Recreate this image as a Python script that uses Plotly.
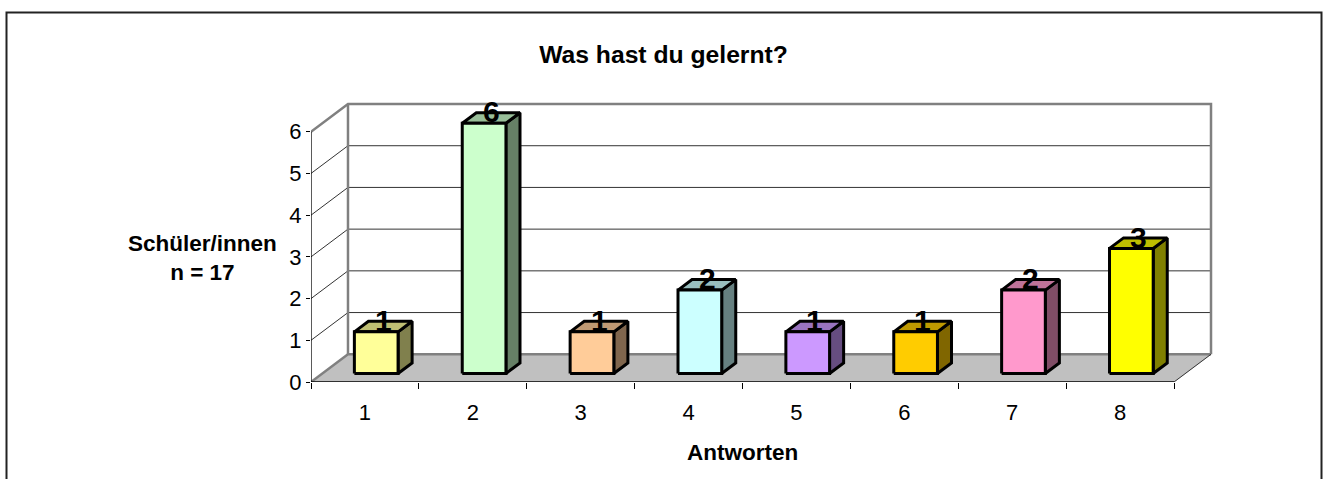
import plotly.graph_objects as go

categories = [1, 2, 3, 4, 5, 6, 7, 8]
values = [1, 6, 1, 2, 1, 1, 2, 3]
front_colors = ["#FFFF99", "#CCFFCC", "#FFCC99", "#CCFFFF", "#CC99FF", "#FFCC00", "#FF99CC", "#FFFF00"]
top_colors = ["#BFBF73", "#99BF99", "#BF9973", "#99BFBF", "#9973BF", "#BF9900", "#BF7399", "#BFBF00"]
side_colors = ["#80804D", "#668066", "#80664D", "#668080", "#664D80", "#806600", "#804D66", "#808000"]
y_ticks = [0, 1, 2, 3, 4, 5, 6]
title = "Was hast du gelernt?"
x_title = "Antworten"
y_title = "Schüler/innen<br>n = 17"

FONT = "Liberation Sans"
PX_X = 107.9         # pixels per category
PX_Y = 41.67         # pixels per value unit
DX = 37 / PX_X       # depth of the 3D box, in category units
DY = 27.7 / PX_Y     # depth of the 3D box, in value units
BAR_W = 0.405
F0, F1 = 0.305, 0.685
PAD = 10             # spare pixels top/right so the wall frame is not on the plot edge
X0, X1 = categories[0] - 0.5, categories[-1] + 0.5
YMAX = max(y_ticks)
GREY = "#808080"
GRID = "#333333"
PLOT_W, PLOT_H = 910, 287.7

fig = go.Figure()


def poly(xs, ys, fill=None, color="black", width=1.0):
    fig.add_trace(go.Scatter(
        x=xs, y=ys, mode="lines", cliponaxis=False, hoverinfo="skip", showlegend=False,
        fill="toself" if fill else None, fillcolor=fill,
        line=dict(color=color, width=width, shape="linear"),
    ))


# floor
poly([X0, X1, X1 + DX, X0 + DX, X0], [0, 0, DY, DY, 0], fill="#C0C0C0", color="#C0C0C0", width=0.5)
# gridlines over side and back walls
for v in y_ticks[1:-1]:
    poly([X0, X0 + DX, X1 + DX], [v, v + DY, v + DY], color=GRID, width=1)
# wall frame
poly([X0, X0 + DX, X1 + DX, X1 + DX], [YMAX, YMAX + DY, YMAX + DY, DY], color=GREY, width=2.5)
poly([X0 + DX, X0 + DX], [YMAX + DY, DY], color=GREY, width=2.5)
poly([X0, X0 + DX, X1 + DX], [0, DY, DY], color=GREY, width=2.5)
poly([X1, X1 + DX], [0, DY], color=GRID, width=1)
# front axes
poly([X0, X0], [0, YMAX], color="black", width=1.3)
poly([X0, X1], [0, 0], color="black", width=1.3)

# bars
for c, v, fc, tc, sc in zip(categories, values, front_colors, top_colors, side_colors):
    l = c - BAR_W / 2 + F0 * DX
    r = c + BAR_W / 2 + F0 * DX
    b = F0 * DY
    t = v + F0 * DY
    ddx = (F1 - F0) * DX
    ddy = (F1 - F0) * DY
    poly([r, r + ddx, r + ddx, r, r], [b, b + ddy, t + ddy, t, b], fill=sc, width=3)
    poly([l, l + ddx, r + ddx, r, l], [t, t + ddy, t + ddy, t, t], fill=tc, width=3)
    poly([l, r, r, l, l], [b, b, t, t, b], fill=fc, width=3)
    fig.add_annotation(
        x=c + 0.5 * DX, y=v + 0.5 * DY, xref="x", yref="y", text=str(v), showarrow=False,
        xanchor="center", yanchor="middle", yshift=6,
        font=dict(family=FONT, size=30, color="black", weight="bold"),
    )

fig.add_annotation(
    x=(X0 + X1) / 2, y=0, xref="x", yref="y", yshift=-70, text=x_title, showarrow=False,
    xanchor="center", yanchor="middle",
    font=dict(family=FONT, size=22.5, color="black", weight="bold"),
)
fig.add_annotation(
    x=(202.5 - 311) / PLOT_W, y=(381.7 - 258) / PLOT_H, xref="paper", yref="paper", text=y_title,
    showarrow=False, xanchor="center", yanchor="middle", align="center",
    font=dict(family=FONT, size=22.5, color="black", weight="bold"),
)

# chart frame (its lower edge lies below the visible page)
fig.add_shape(
    type="rect", xref="paper", yref="paper",
    x0=(6.5 - 311) / PLOT_W, x1=(1321.5 - 311) / PLOT_W,
    y0=(381.7 - 490) / PLOT_H, y1=(381.7 - 12.5) / PLOT_H,
    line=dict(color="#222222", width=2), layer="below",
)

fig.update_layout(
    width=1327, height=479, autosize=False,
    margin=dict(l=311, r=106, t=94, b=97.3, pad=0),
    paper_bgcolor="white", plot_bgcolor="rgba(0,0,0,0)", showlegend=False,
    title=dict(
        text=title, x=0.5, xref="container", xanchor="center",
        y=1 - 54 / 479, yref="container", yanchor="middle",
        font=dict(family=FONT, size=24.7, color="black", weight="bold"),
    ),
    xaxis=dict(
        range=[X0, X1 + DX + PAD / PX_X], showgrid=False, zeroline=False, showline=False,
        tickmode="array", tickvals=categories, ticktext=[str(c) for c in categories],
        ticks="outside", ticklen=11, tickcolor="rgba(0,0,0,0)",
        tickfont=dict(family=FONT, size=22, color="black"),
        minor=dict(
            tickmode="array", tickvals=[c - 0.5 for c in categories] + [X1],
            ticks="outside", ticklen=6, tickcolor="black", tickwidth=1, showgrid=False,
        ),
    ),
    yaxis=dict(
        range=[0, YMAX + DY + PAD / PX_Y], showgrid=False, zeroline=False, showline=False,
        tickmode="array", tickvals=y_ticks, ticktext=[str(v) for v in y_ticks],
        ticks="outside", ticklen=4, tickcolor="black", tickwidth=1,
        tickfont=dict(family=FONT, size=22, color="black"),
    ),
)

fig.write_html("out.html", config={"displayModeBar": False},
               post_script="document.body.style.margin='0';")
